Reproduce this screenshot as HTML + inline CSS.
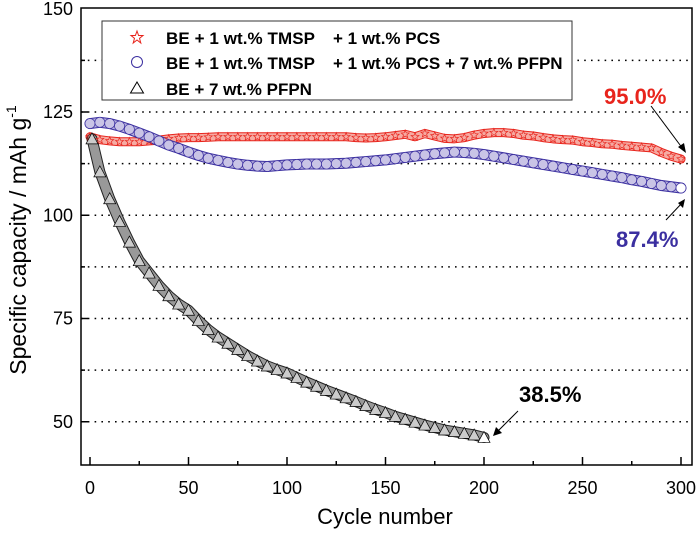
<!DOCTYPE html>
<html><head><meta charset="utf-8"><style>
body{margin:0;background:#fff;width:700px;height:530px;overflow:hidden}
text{font-family:"Liberation Sans",Arial,sans-serif}
</style></head><body>
<svg id="chart" width="700" height="530" viewBox="0 0 700 530" xmlns="http://www.w3.org/2000/svg">
<g id="grid"></g>
<g id="series"></g>
<rect x="81" y="8" width="611" height="457" fill="none" stroke="#000" stroke-width="1.5"/>
<g id="axes"></g>
<text x="385" y="524" font-size="22" text-anchor="middle">Cycle number</text>
<text transform="translate(26,240) rotate(-90)" font-size="23" text-anchor="middle">Specific capacity / mAh g<tspan font-size="14" dy="-10">-1</tspan></text>
<g>
<rect x="102" y="21" width="470" height="79" fill="#fff" stroke="#333" stroke-width="1"/>
<g>
<polygon points="137,31 138.6,35.5 143,35.5 139.5,38.3 140.8,43 137,40 133.2,43 134.5,38.3 131,35.5 135.4,35.5" fill="none" stroke="#e8241c" stroke-width="1"/>
<text x="166" y="44" font-size="17" font-weight="bold" textLength="149">BE + 1 wt.% TMSP</text><text x="333" y="44" font-size="17" font-weight="bold">+ 1 wt.% PCS</text></g>
<g>
<circle cx="137" cy="62" r="5.5" fill="none" stroke="#3b2fa0" stroke-width="1"/>
<text x="166" y="69" font-size="17" font-weight="bold" textLength="149">BE + 1 wt.% TMSP</text><text x="333" y="69" font-size="17" font-weight="bold">+ 1 wt.% PCS + 7 wt.% PFPN</text></g>
<g>
<polygon points="137,82 143.5,93 130.5,93" fill="none" stroke="#000" stroke-width="1"/>
<text x="166" y="95" font-size="17" font-weight="bold">BE + 7 wt.% PFPN</text></g>
</g>
<g>
<text x="604" y="104" font-size="22" font-weight="bold" fill="#e8241c">95.0%</text>
<line x1="651" y1="106" x2="683" y2="149" stroke="#000" stroke-width="1"/>
<polygon points="686,153 678,147 684,143" fill="#000"/>
<text x="616" y="247" font-size="22" font-weight="bold" fill="#3b2fa0">87.4%</text>
<line x1="666" y1="220" x2="682" y2="203" stroke="#000" stroke-width="1"/>
<polygon points="685,199 678,203 683,208" fill="#000"/>
<text x="519" y="402" font-size="22" font-weight="bold" fill="#000">38.5%</text>
<line x1="518" y1="411" x2="497" y2="432" stroke="#000" stroke-width="1"/>
<polygon points="493,436 496,427 502,433" fill="#000"/>
</g>
</svg>
<script>
const cyclesAB = [0,5,10,15,20,25,30,35,40,45,50,55,60,65,70,75,80,85,90,95,100,105,110,115,120,125,130,135,140,145,150,155,160,165,170,175,180,185,190,195,200,205,210,215,220,225,230,235,240,245,250,255,260,265,270,275,280,285,290,295,300];
const redValues = [119,118.3,118,117.8,117.8,117.8,118,118.2,118.5,118.7,118.8,118.8,118.9,119,119,119,119,119,119,119,119,119,119,119,119,119,119,118.8,118.7,118.8,119,119.3,119.6,119,119.8,119.2,118.6,118.5,118.8,119.4,119.8,120,120,119.8,119.4,119.2,118.8,118.5,118.3,118.2,117.8,117.6,117.3,117.2,116.9,116.7,116.5,116.3,115.2,114.3,113.6];
const blueValues = [122.2,122.5,122.2,121.6,120.8,119.9,119,118,117,116.2,115.3,114.5,113.8,113.3,112.8,112.4,112.1,111.9,111.8,112,112.2,112.3,112.4,112.4,112.4,112.5,112.6,112.8,113,113.2,113.4,113.7,114,114.3,114.6,114.9,115.1,115.3,115.2,115,114.7,114.3,113.9,113.5,113.1,112.7,112.3,111.9,111.5,111.1,110.7,110.3,109.9,109.5,109.1,108.6,108.2,107.7,107.2,106.9,106.6];
const cyclesC = [1,5,10,15,20,25,30,35,40,45,50,55,60,65,70,75,80,85,90,95,100,105,110,115,120,125,130,135,140,145,150,155,160,165,170,175,180,185,190,195,200];
const blackValues = [118.5,110.5,104,98.5,93.5,89,86,83,80.5,78.5,77,74.5,72.3,70.5,69,67.5,66,64.7,63.5,62.6,61.8,60.7,59.6,58.6,57.6,56.7,55.8,54.9,53.9,53,52.2,51.3,50.6,49.9,49.2,48.6,48,47.6,47.2,46.8,46.2];
const xTicks = [0,50,100,150,200,250,300];
const yTicks = [50,75,100,125,150];
const gridVals = [50,62.5,75,87.5,100,112.5,125,137.5];

const NS="http://www.w3.org/2000/svg";
const X = c => 90 + c*1.97;
const Y = v => 112 + (125-v)*4.13;
function mk(tag, attrs, parent){const e=document.createElementNS(NS,tag);for(const k in attrs)e.setAttribute(k,attrs[k]);parent.appendChild(e);return e;}
const grid=document.getElementById('grid'), axes=document.getElementById('axes'), series=document.getElementById('series');
gridVals.forEach(v=>{
  const l=mk('line',{x1:81,x2:692,y1:Y(v),y2:Y(v),stroke:'#000','stroke-width':1.6,'stroke-dasharray':'1.6 5.2'},grid);
  
  
  const t=mk('line',{x1:81,x2:(v%25===0?88:85),y1:Y(v),y2:Y(v),stroke:'#000','stroke-width':1.5},axes);
  
  
});
yTicks.forEach(v=>{
  const t=mk('text',{x:73,y:Y(v)+6,'font-size':18,'text-anchor':'end'},axes);t.textContent=v;
  
  
});
for(let c=0;c<=300;c+=25){
  const t=mk('line',{x1:X(c),x2:X(c),y1:465,y2:(c%50===0?457:461),stroke:'#000','stroke-width':1.5},axes);
  
  
}
xTicks.forEach(c=>{
  const t=mk('text',{x:X(c),y:494,'font-size':18,'text-anchor':'middle'},axes);t.textContent=c;
  
  
});
function band(xs,vs,edge,fill,w,name){
  const pts=xs.map((c,i)=>X(c)+','+Y(vs[i])).join(' ');
  const p=mk('polyline',{points:pts,fill:'none',stroke:edge,'stroke-width':w+2,'stroke-linejoin':'round','stroke-linecap':'round'},series);
  
  
  const q=mk('polyline',{points:pts,fill:'none',stroke:fill,'stroke-width':w,'stroke-linejoin':'round','stroke-linecap':'round'},series);
  
  
}
band(cyclesAB,redValues,'#e8241c','#f6aaa2',7,'series-red-band');
band(cyclesAB,blueValues,'#3b2fa0','#b4aedb',9,'series-blue-band');
band(cyclesC,blackValues,'#222','#999',9,'series-black-band');
cyclesAB.forEach((c,i)=>{
  const x=X(c),y=Y(redValues[i]);const pts=[];
  for(let k=0;k<10;k++){const r=k%2?1.8:4.2,a=-Math.PI/2+k*Math.PI/5;pts.push((x+r*Math.cos(a)).toFixed(1)+','+(y+r*Math.sin(a)).toFixed(1));}
  const s=mk('polygon',{points:pts.join(' '),fill:'none',stroke:'#e8241c','stroke-width':0.7},series);
  
  
});
cyclesAB.forEach((c,i)=>{
  const s=mk('circle',{cx:X(c),cy:Y(blueValues[i]),r:5,fill:i===cyclesAB.length-1?'#fff':'#c9c4e6',stroke:'#3b2fa0','stroke-width':0.7},series);
  
  
});
cyclesC.forEach((c,i)=>{
  const x=X(c),y=Y(blackValues[i]);
  const s=mk('polygon',{points:`${x},${y-6} ${x+6},${y+5} ${x-6},${y+5}`,fill:i===cyclesC.length-1?'#fff':'#ccc',stroke:'#000','stroke-width':0.7},series);
  
  
});
</script>
</body></html>
